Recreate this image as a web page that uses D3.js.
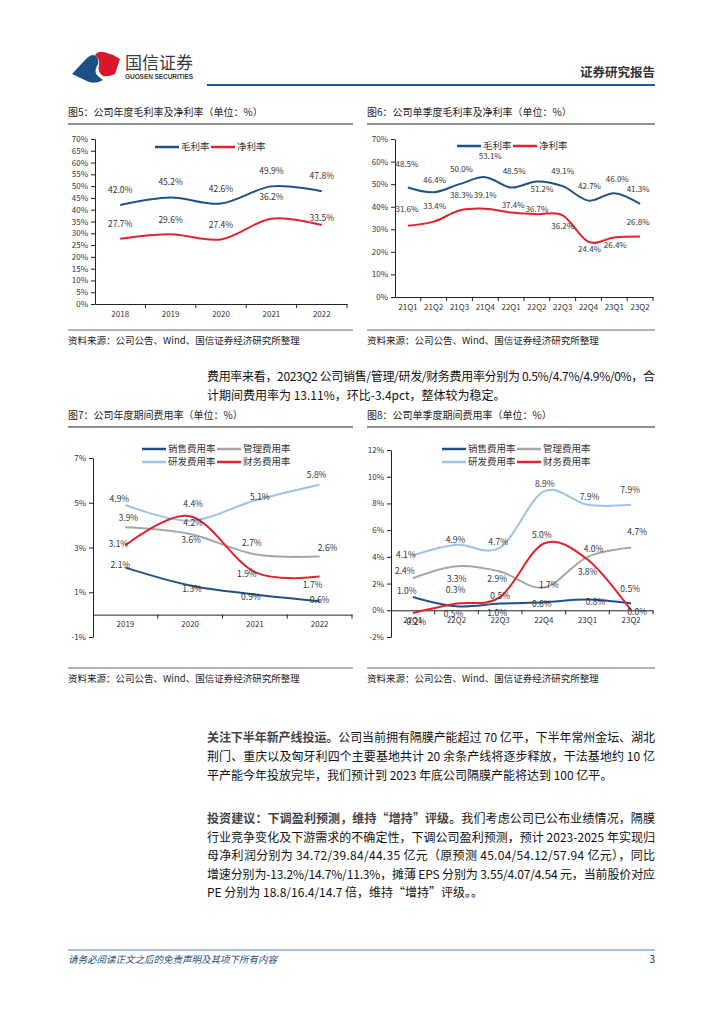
<!DOCTYPE html>
<html><head><meta charset="utf-8">
<script src="https://cdn.jsdelivr.net/npm/d3@7"></script>
<style>body{margin:0;background:#fff}</style>
</head><body>
<script>
// ---------- DATA ----------
const years5 = ['2018','2019','2020','2021','2022'];
const gross5 = [42.0,45.2,42.6,49.9,47.8];
const net5   = [27.7,29.6,27.4,36.2,33.5];
const ticks5 = [0,5,10,15,20,25,30,35,40,45,50,55,60,65,70];

const quarters6 = ['21Q1','21Q2','21Q3','21Q4','22Q1','22Q2','22Q3','22Q4','23Q1','23Q2'];
const gross6 = [48.5,46.4,50.0,53.1,48.5,51.2,49.1,42.7,46.0,41.3];
const net6   = [31.6,33.4,38.3,39.1,37.4,36.7,36.2,24.4,26.4,26.8];
const ticks6 = [0,10,20,30,40,50,60,70];

const years7 = ['2019','2020','2021','2022'];
const sales7 = [2.1,1.3,0.9,0.6];
const admin7 = [3.9,3.6,2.7,2.6];
const rd7    = [4.9,4.2,5.1,5.8];
const fin7   = [3.1,4.4,1.9,1.7];
const ticks7 = [-1,1,3,5,7];

const quarters8 = ['22Q1','22Q2','22Q3','22Q4','23Q1','23Q2'];
const sales8 = [1.0,0.3,0.5,0.6,0.8,0.5];
const admin8 = [2.4,3.3,2.9,1.7,4.0,4.7];
const rd8    = [4.1,4.9,4.7,8.9,7.9,7.9];
const fin8   = [-0.2,0.5,1.0,5.0,3.8,0.0];
const ticks8 = [-2,0,2,4,6,8,10,12];

const seriesNamesA = ['毛利率','净利率'];
const seriesNamesB = ['销售费用率','管理费用率','研发费用率','财务费用率'];

// ---------- STYLE ----------
const CJK = '"Noto Sans CJK SC","Noto Sans",sans-serif';
const C_BLUE = '#1f5285', C_RED = '#e1232e', C_GRAY = '#a6a6a6', C_LBLUE = '#9dc3e6';
const TXT = '#333';

const svg = d3.select('body').append('svg').attr('width',724).attr('height',1024)
  .style('font-family',CJK);
svg.append('rect').attr('width',724).attr('height',1024).attr('fill','#fff');

// ---------- HEADER ----------
const hdr = svg.append('g');
hdr.append('path').attr('d','M72,74 L86,59 Q93,52 97,57 Q100,63 96,68 Q94,73 99,77 L103,80 Q97,84 89,82 Z').attr('fill','#1b4f86');
hdr.append('path').attr('d','M95,55 Q98,51 104,52 L113,55 L120,59 L115,74 Q108,77 103,76 Q97,72 99,65 Q100,59 95,55 Z').attr('fill','#d7182a');
hdr.append('text').attr('x',125).attr('y',69).attr('font-size',17).attr('fill','#3a3a3a').attr('textLength',68).text('国信证券');
hdr.append('text').attr('x',125).attr('y',79).attr('font-size',6.5).attr('font-weight','bold').attr('fill','#3a3a3a')
  .attr('textLength',68).attr('font-family','"Liberation Sans",Arial,sans-serif').text('GUOSEN SECURITIES');
hdr.append('text').attr('x',655).attr('y',77).attr('text-anchor','end').attr('font-size',12.5).attr('font-weight','bold').attr('fill','#333').text('证券研究报告');
hdr.append('line').attr('x1',207).attr('x2',655).attr('y1',85).attr('y2',85).attr('stroke','#1f5a96').attr('stroke-width',2);

// ---------- CHART HELPERS ----------
function frame(x0,x1,title,titleY,srcY){
  svg.append('text').attr('x',x0).attr('y',titleY).attr('font-size',10).attr('fill','#222').text(title);
  svg.append('line').attr('x1',x0).attr('x2',x1).attr('y1',titleY+8).attr('y2',titleY+8).attr('stroke','#222').attr('stroke-width',1);
  svg.append('line').attr('x1',x0).attr('x2',x1).attr('y1',srcY).attr('y2',srcY).attr('stroke','#999').attr('stroke-width',1.5);
  svg.append('text').attr('x',x0).attr('y',srcY+14).attr('font-size',9.5).attr('fill','#222').text('资料来源：公司公告、Wind、国信证券经济研究所整理');
}

function drawChart(cfg){
  const g = svg.append('g');
  const x = d3.scaleBand().domain(cfg.cats).range([cfg.x0,cfg.x1]);
  const y = d3.scaleLinear().domain(cfg.domain).range([cfg.yBot,cfg.yTop]);
  const bw = x.bandwidth();
  // y axis
  const ya = g.append('g').attr('transform',`translate(${cfg.x0},0)`)
    .call(d3.axisLeft(y).tickValues(cfg.yTicks).tickFormat(d=>d+'%').tickSize(4).tickSizeOuter(0).tickPadding(3));
  ya.selectAll('text').attr('font-size',8).attr('font-family',CJK).attr('fill',TXT);
  ya.selectAll('line,path').attr('stroke','#222');
  // x axis at 0
  const xa = g.append('g').attr('transform',`translate(0,${y(0)})`)
    .call(d3.axisBottom(x).tickSize(0).tickSizeOuter(0).tickPadding(7));
  xa.selectAll('text').attr('font-size',8).attr('font-family',CJK).attr('fill',TXT);
  xa.select('path').attr('stroke','#222');
  g.selectAll('.bt').data(cfg.cats).join('line')
    .attr('x1',d=>x(d)+bw).attr('x2',d=>x(d)+bw).attr('y1',y(0)).attr('y2',y(0)+4).attr('stroke','#222');
  // lines
  const line = d3.line().x((d,i)=>x(cfg.cats[i])+bw/2).y(d=>y(d)).curve(d3.curveCardinal);
  cfg.series.forEach(s=>{
    g.append('path').attr('d',line(s.values)).attr('fill','none').attr('stroke',s.color).attr('stroke-width',2);
  });
  cfg.series.forEach(s=>{
    g.selectAll(null).data(s.values).join('text')
      .attr('x',(d,i)=>x(cfg.cats[i])+bw/2+s.off[i][0])
      .attr('y',(d,i)=>y(d)+s.off[i][1])
      .attr('dy','0.35em').attr('text-anchor','middle').attr('font-size',cfg.lblSize||8.5).attr('fill',TXT)
      .text(d=>d.toFixed(1)+'%');
  });
  // legend
  cfg.legend.forEach(l=>{
    g.append('line').attr('x1',l.x).attr('x2',l.x+24).attr('y1',l.y).attr('y2',l.y).attr('stroke',l.color).attr('stroke-width',2.5);
    g.append('text').attr('x',l.x+26).attr('y',l.y).attr('dy','0.35em').attr('font-size',9.5).attr('fill',TXT).text(l.name);
  });
}
const rep = (n,v)=>Array.from({length:n},()=>v);

// ---------- CHART 5 ----------
frame(68,353,'图5：公司年度毛利率及净利率（单位：%）',116,330);
drawChart({cats:years5,x0:95,x1:347,yBot:304,yTop:139,domain:[0,70],yTicks:ticks5,
  series:[{values:gross5,color:C_BLUE,off:rep(5,[0,-15])},
          {values:net5,color:C_RED,off:[[0,-15],[0,-14],[0,-14],[0,-22],[0,-7]]}],
  legend:[{x:155,y:147,color:C_BLUE,name:seriesNamesA[0]},{x:211,y:147,color:C_RED,name:seriesNamesA[1]}]});

// ---------- CHART 6 ----------
frame(367,655,'图6：公司单季度毛利率及净利率（单位：%）',116,330);
drawChart({cats:quarters6,x0:395,x1:653,yBot:297,yTop:139,domain:[0,70],yTicks:ticks6,lblSize:8,
  series:[{values:gross6,color:C_BLUE,off:[[-1,-23],[1,-12],[2,-15],[5,-21],[3,-16],[5,8],[0,-15],[1,-14],[3,-14],[-2,-15]]},
          {values:net6,color:C_RED,off:[[-1,-16],[1,-15],[2,-15],[0,-14],[2,-7],[0,-5],[0,11],[1,7],[1,8],[-2,-14]]}],
  legend:[{x:457,y:146,color:C_BLUE,name:seriesNamesA[0]},{x:513,y:146,color:C_RED,name:seriesNamesA[1]}]});

// ---------- CHART 7 ----------
frame(68,353,'图7：公司年度期间费用率（单位：%）',419,668);
drawChart({cats:years7,x0:93,x1:352,yBot:637,yTop:458,domain:[-1,7],yTicks:ticks7,
  series:[{values:sales7,color:C_BLUE,off:[[-5,-3],[2,3],[-4,3],[0,-1]]},
          {values:admin7,color:C_GRAY,off:[[3,-9],[1,6],[-3,-11],[8,-8]]},
          {values:rd7,color:C_LBLUE,off:[[-6,-6],[3,2],[5,-3],[-3,-10]]},
          {values:fin7,color:C_RED,off:[[-7,-1],[3,-12],[-8,2],[-7,8]]}],
  legend:[{x:142,y:449,color:C_BLUE,name:seriesNamesB[0]},{x:217,y:449,color:C_GRAY,name:seriesNamesB[1]},
          {x:142,y:462,color:C_LBLUE,name:seriesNamesB[2]},{x:217,y:462,color:C_RED,name:seriesNamesB[3]}]});

// ---------- CHART 8 ----------
frame(367,655,'图8：公司单季度期间费用率（单位：%）',419,668);
drawChart({cats:quarters8,x0:391,x1:653,yBot:637,yTop:450,domain:[-2,12],yTicks:ticks8,
  series:[{values:sales8,color:C_BLUE,off:[[-6,-6],[-1,-16],[0,-8],[-2,2],[8,2],[-1,-15]]},
          {values:admin8,color:C_GRAY,off:[[-8,-7],[0,13],[-3,7],[5,-3],[6,-8],[6,-15]]},
          {values:rd8,color:C_LBLUE,off:[[-7,0],[-1,-5],[-2,-5],[1,-7],[2,-8],[-1,-15]]},
          {values:fin8,color:C_RED,off:[[2,9],[-3,10],[-3,16],[-2,-8],[0,12],[6,2]]}],
  legend:[{x:442,y:449,color:C_BLUE,name:seriesNamesB[0]},{x:517,y:449,color:C_GRAY,name:seriesNamesB[1]},
          {x:442,y:462,color:C_LBLUE,name:seriesNamesB[2]},{x:517,y:462,color:C_RED,name:seriesNamesB[3]}]});

// ---------- BODY TEXT ----------
const TX0 = 207, TX1 = 655;
function para(lines, y0, lh){
  lines.forEach((segs,i)=>{
    const t = svg.append('text').attr('x',TX0).attr('y',y0+i*lh).attr('font-size',12).attr('fill','#111');
    if(segs.full) t.attr('textLength',TX1-TX0).attr('lengthAdjust','spacing');
    segs.s.forEach(s=>t.append('tspan').attr('font-weight',s[1]?'bold':'normal').attr('fill',s[1]?'#444':'#111').text(s[0]));
  });
}
para([
  {full:true,s:[['费用率来看，2023Q2 公司销售/管理/研发/财务费用率分别为 0.5%/4.7%/4.9%/0%，合',0]]},
  {full:false,s:[['计期间费用率为 13.11%，环比-3.4pct，整体较为稳定。',0]]}
],381,19);
para([
  {full:true,s:[['关注下半年新产线投运。',1],['公司当前拥有隔膜产能超过 70 亿平，下半年常州金坛、湖北',0]]},
  {full:true,s:[['荆门、重庆以及匈牙利四个主要基地共计 20 余条产线将逐步释放，干法基地约 10 亿',0]]},
  {full:false,s:[['平产能今年投放完毕，我们预计到 2023 年底公司隔膜产能将达到 100 亿平。',0]]}
],742,19);
para([
  {full:true,s:[['投资建议：下调盈利预测，维持“增持”评级。',1],['我们考虑公司已公布业绩情况，隔膜',0]]},
  {full:true,s:[['行业竞争变化及下游需求的不确定性，下调公司盈利预测，预计 2023-2025 年实现归',0]]},
  {full:true,s:[['母净利润分别为 34.72/39.84/44.35 亿元（原预测 45.04/54.12/57.94 亿元），同比',0]]},
  {full:true,s:[['增速分别为-13.2%/14.7%/11.3%，摊薄 EPS 分别为 3.55/4.07/4.54 元，当前股价对应',0]]},
  {full:false,s:[['PE 分别为 18.8/16.4/14.7 倍，维持“增持”评级。。',0]]}
],823,18.5);

// ---------- FOOTER ----------
svg.append('line').attr('x1',68).attr('x2',655).attr('y1',950).attr('y2',950).attr('stroke','#4a7ebb').attr('stroke-width',1);
svg.append('text').attr('x',68).attr('y',963).attr('font-size',9.5).attr('font-style','italic').attr('fill','#1f4e79')
  .text('请务必阅读正文之后的免责声明及其项下所有内容');
svg.append('text').attr('x',655).attr('y',963).attr('text-anchor','end').attr('font-size',10).attr('fill','#222').text('3');
</script>
</body></html>
